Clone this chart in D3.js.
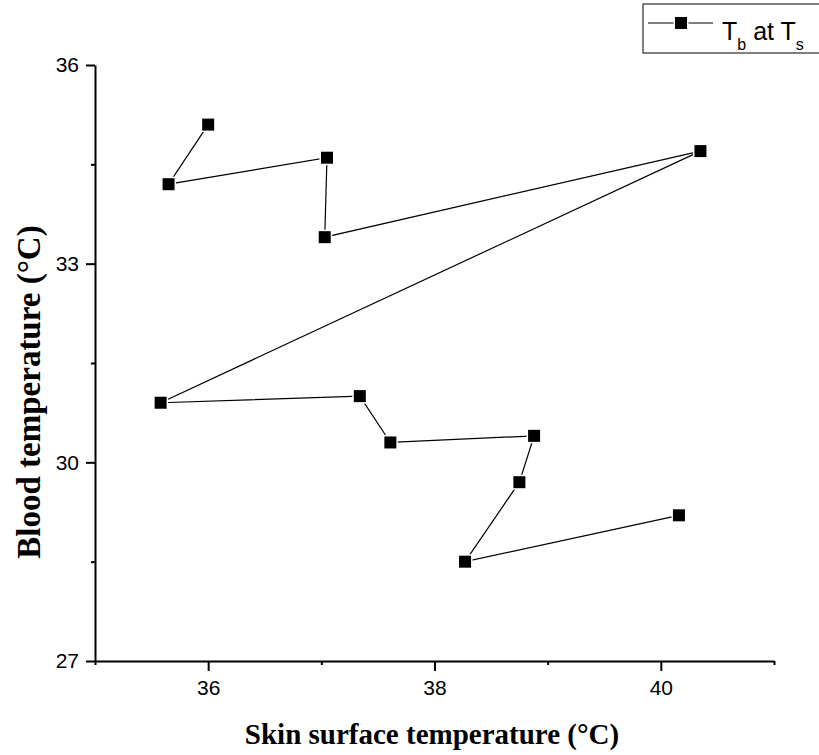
<!DOCTYPE html>
<html>
<head>
<meta charset="utf-8">
<script src="https://cdn.jsdelivr.net/npm/d3@7"></script>
<style>
  body { margin: 0; background: #fff; }
  svg { display: block; }
</style>
</head>
<body>
<div id="chart"></div>
<script>
// values
const skinTemp  = [36.0, 35.65, 37.05, 37.03, 40.35, 35.58, 37.34, 37.61, 38.88, 38.75, 38.27, 40.16];
const bloodTemp = [35.1, 34.2, 34.6, 33.4, 34.7, 30.9, 31.0, 30.3, 30.4, 29.7, 28.5, 29.2];
const xMajor = [36, 38, 40];
const xMinor = [35, 37, 39, 41];
const yMajor = [27, 30, 33, 36];
const yMinor = [28.5, 31.5, 34.5];

const W = 819, H = 755;
const sans = "'Liberation Sans', Arial, sans-serif";
const serif = "'Liberation Serif', 'Times New Roman', serif";

const svg = d3.select("#chart").append("svg")
  .attr("width", W)
  .attr("height", H);
svg.append("rect").attr("width", W).attr("height", H).attr("fill", "#fff");

// scales
const x = d3.scaleLinear().domain([35, 41]).range([95, 774]);
const y = d3.scaleLinear().domain([27, 36]).range([661, 65]);

const points = skinTemp.map((d, i) => ({ x: d, y: bloodTemp[i] }));

// line
svg.append("path")
  .datum(points)
  .attr("fill", "none")
  .attr("stroke", "#000")
  .attr("stroke-width", 1.2)
  .attr("d", d3.line().x(d => x(d.x)).y(d => y(d.y)));

// square markers, white halo gives the small gap Origin leaves
svg.selectAll(".pt")
  .data(points)
  .join("rect")
  .attr("class", "pt")
  .attr("x", d => x(d.x) - 6)
  .attr("y", d => y(d.y) - 6)
  .attr("width", 12)
  .attr("height", 12)
  .attr("fill", "#000")
  .attr("stroke", "#fff")
  .attr("stroke-width", 3)
  .attr("paint-order", "stroke");

// ---------- axes ----------
const fmt = d3.format("d");
const xAxisG = svg.append("g")
  .attr("transform", `translate(0,${y(27)})`)
  .call(d3.axisBottom(x).tickValues(xMajor).tickFormat(fmt).tickSize(10).tickSizeOuter(0));
xAxisG.append("g")
  .call(d3.axisBottom(x).tickValues(xMinor).tickSize(4).tickFormat(""))
  .select(".domain").remove();

const yAxisG = svg.append("g")
  .attr("transform", `translate(${x(35)},0)`)
  .call(d3.axisLeft(y).tickValues(yMajor).tickFormat(fmt).tickSize(9).tickSizeOuter(0));
yAxisG.append("g")
  .call(d3.axisLeft(y).tickValues(yMinor).tickSize(4).tickFormat(""))
  .select(".domain").remove();

svg.selectAll(".domain").attr("stroke", "#000").attr("stroke-width", 2);
svg.selectAll(".tick line").attr("stroke", "#000").attr("stroke-width", 2);

xAxisG.selectAll(".tick text")
  .attr("y", 34).attr("dy", null)
  .attr("font-family", sans).attr("font-size", 21).attr("fill", "#000");
yAxisG.selectAll(".tick text")
  .attr("x", -16)
  .attr("font-family", sans).attr("font-size", 21).attr("fill", "#000");

// axis titles
svg.append("text")
  .attr("x", 432)
  .attr("y", 744)
  .attr("text-anchor", "middle")
  .attr("font-family", serif)
  .attr("font-weight", "bold")
  .attr("font-size", 29)
  .text("Skin surface temperature (°C)");

svg.append("text")
  .attr("transform", "translate(40,392) rotate(-90)")
  .attr("text-anchor", "middle")
  .attr("font-family", serif)
  .attr("font-weight", "bold")
  .attr("font-size", 33)
  .text("Blood temperature (°C)");

// ---------- legend ----------
const lg = svg.append("g");
lg.append("rect")
  .attr("x", 643).attr("y", 4)
  .attr("width", 200).attr("height", 49)
  .attr("fill", "#fff").attr("stroke", "#000").attr("stroke-width", 1);
lg.append("line")
  .attr("x1", 648).attr("x2", 713)
  .attr("y1", 23).attr("y2", 23)
  .attr("stroke", "#000").attr("stroke-width", 1.2);
lg.append("rect")
  .attr("x", 675).attr("y", 17)
  .attr("width", 12).attr("height", 12)
  .attr("fill", "#000").attr("stroke", "#fff")
  .attr("stroke-width", 3).attr("paint-order", "stroke");
const lt = lg.append("text")
  .attr("x", 722).attr("y", 40)
  .attr("font-family", sans).attr("font-size", 25).attr("fill", "#000");
lt.append("tspan").text("T");
lt.append("tspan").attr("font-size", 16).attr("dy", 10).text("b");
lt.append("tspan").attr("dy", -10).text(" at T");
lt.append("tspan").attr("font-size", 16).attr("dy", 10).text("s");
</script>
</body>
</html>
